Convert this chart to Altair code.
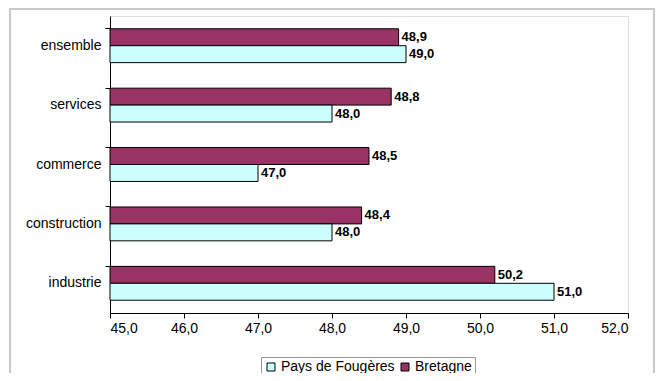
import altair as alt
import pandas as pd

categories = ["ensemble", "services", "commerce", "construction", "industrie"]
fougeres = [49.0, 48.0, 47.0, 48.0, 51.0]
bretagne = [48.9, 48.8, 48.5, 48.4, 50.2]
series = ["Pays de Fougères", "Bretagne"]
colors = ["#CCFFFF", "#993366"]

rows = []
for c, f, b in zip(categories, fougeres, bretagne):
    rows.append({"cat": c, "serie": "Bretagne", "val": b})
    rows.append({"cat": c, "serie": "Pays de Fougères", "val": f})
df = pd.DataFrame(rows)

W, H = 518, 297
FONT = "Liberation Sans"
FS = 14

ycat = alt.Y("cat:N", sort=categories, title=None,
             scale=alt.Scale(paddingInner=0.43, paddingOuter=0.215),
             axis=alt.Axis(bandPosition=0, tickSize=5,
                           labelFontSize=FS, labelColor="black", labelFont=FONT,
                           domainColor="black", tickColor="black", labelPadding=4))
xq = alt.X("val:Q", title=None,
           scale=alt.Scale(domain=[45, 52], zero=False, nice=False),
           axis=alt.Axis(values=[45, 46, 47, 48, 49, 50, 51, 52],
                         labelExpr="replace(format(datum.value, '.1f'), '.', ',')",
                         grid=False, labelFontSize=FS, labelColor="black", labelFont=FONT,
                         domainColor="black", tickColor="black", tickSize=5, labelPadding=3))

base = alt.Chart(df)

bars = base.mark_bar(stroke="black", strokeWidth=1).encode(
    y=ycat,
    yOffset=alt.YOffset("serie:N", sort=["Bretagne", "Pays de Fougères"]),
    x=xq,
    x2=alt.datum(45),
    color=alt.Color("serie:N", sort=series,
                    scale=alt.Scale(domain=series, range=colors),
                    legend=alt.Legend(title=None, orient="none", direction="horizontal",
                                      legendX=151, legendY=341, symbolType="square",
                                      symbolSize=64, symbolStrokeColor="black",
                                      symbolStrokeWidth=1, labelFontSize=FS,
                                      labelFont=FONT, labelColor="black",
                                      strokeColor="#999999", padding=3,
                                      columnPadding=3, labelOffset=3)),
)

labels = base.transform_calculate(
    lab="replace(format(datum.val, '.1f'), '.', ',')"
).mark_text(align="left", baseline="middle", dx=3, fontWeight="bold",
            fontSize=13, font=FONT, color="black").encode(
    y=alt.Y("cat:N", sort=categories),
    yOffset=alt.YOffset("serie:N", sort=["Bretagne", "Pays de Fougères"]),
    x=alt.X("val:Q"),
    text="lab:N",
)

border = alt.Chart(pd.DataFrame({"a": [0]})).mark_rect(
    fill=None, stroke="#c8c8c8", strokeWidth=2).encode(
    x=alt.value(-100), x2=alt.value(544), y=alt.value(-7), y2=alt.value(400))

chart = alt.layer(border, bars, labels).properties(
    width=W, height=H,
    autosize=alt.AutoSizeParams(type="none"),
    padding={"left": 102, "top": 8, "right": 28, "bottom": 60},
).configure_view(stroke=None).configure(background="white")

chart.save("out.html", embed_options={"renderer": "svg", "actions": False})
